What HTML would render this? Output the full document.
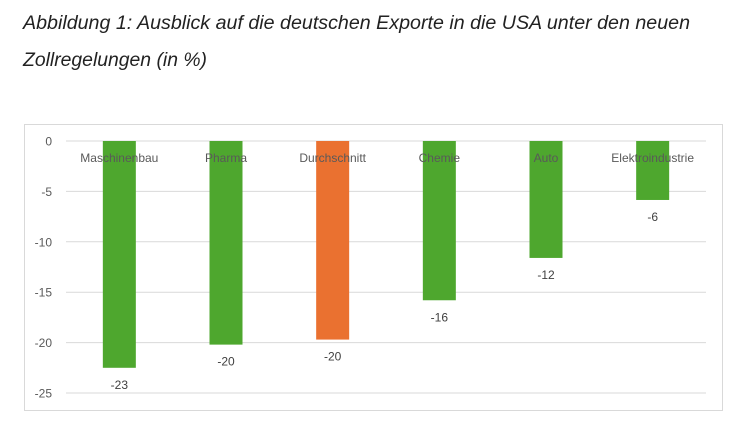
<!DOCTYPE html>
<html><head><meta charset="utf-8"><style>
html,body{margin:0;padding:0;background:#fff;width:744px;height:440px;overflow:hidden}
svg{display:block;font-family:"Liberation Sans",sans-serif}
</style></head><body>
<svg id="chart" width="744" height="440">
<text x="23" y="29" font-size="19" font-style="italic" fill="#222" textLength="667" lengthAdjust="spacingAndGlyphs">Abbildung 1: Ausblick auf die deutschen Exporte in die USA unter den neuen</text>
<text x="23" y="66" font-size="19" font-style="italic" fill="#222" textLength="184" lengthAdjust="spacingAndGlyphs">Zollregelungen (in %)</text>
<rect x="24.5" y="124.5" width="698" height="286" fill="#fff" stroke="#d9d9d9"/>
<g id="grid"></g><g id="bars"></g>
</svg>
<script>
const categories=["Maschinenbau","Pharma","Durchschnitt","Chemie","Auto","Elektroindustrie"];
const values=[-22.5,-20.2,-19.7,-15.8,-11.6,-5.85];
const valueLabels=["-23","-20","-20","-16","-12","-6"];
const ticks=[0,-5,-10,-15,-20,-25];
const highlight=["Durchschnitt"];
const NS="http://www.w3.org/2000/svg";
const x0=66,x1=706,y0=141,pxPerUnit=10.08;
const y=v=>y0-v*pxPerUnit;
const band=(x1-x0)/categories.length;
const xc=i=>x0+band*(i+0.5);
const grid=document.getElementById('grid'),bars=document.getElementById('bars');
function mk(tag,attrs,parent,txt){const e=document.createElementNS(NS,tag);for(const k in attrs)e.setAttribute(k,attrs[k]);if(txt!==undefined)e.textContent=txt;parent.appendChild(e);return e;}
ticks.forEach(t=>{
  const l=mk('line',{x1:x0,x2:x1,y1:y(t),y2:y(t),stroke:'#d9d9d9','stroke-width':1},grid);
  
  
  const tx=mk('text',{x:52,y:y(t)+4.5,'text-anchor':'end','font-size':12,fill:'#595959'},grid,String(t));
  
  
});
categories.forEach((c,i)=>{
  const v=values[i];
  const r=mk('rect',{x:xc(i)-16.5,y:y(0),width:33,height:y(v)-y(0),fill:highlight.includes(c)?'#ea7130':'#4ea72e'},bars);
  
  
  const cl=mk('text',{x:xc(i),y:162,'text-anchor':'middle','font-size':12,fill:'#595959'},bars,c);
  
  
  const vl=mk('text',{x:xc(i),y:y(v)+21,'text-anchor':'middle','font-size':12,fill:'#404040'},bars,valueLabels[i]);
  
  
});
</script>
</body></html>
